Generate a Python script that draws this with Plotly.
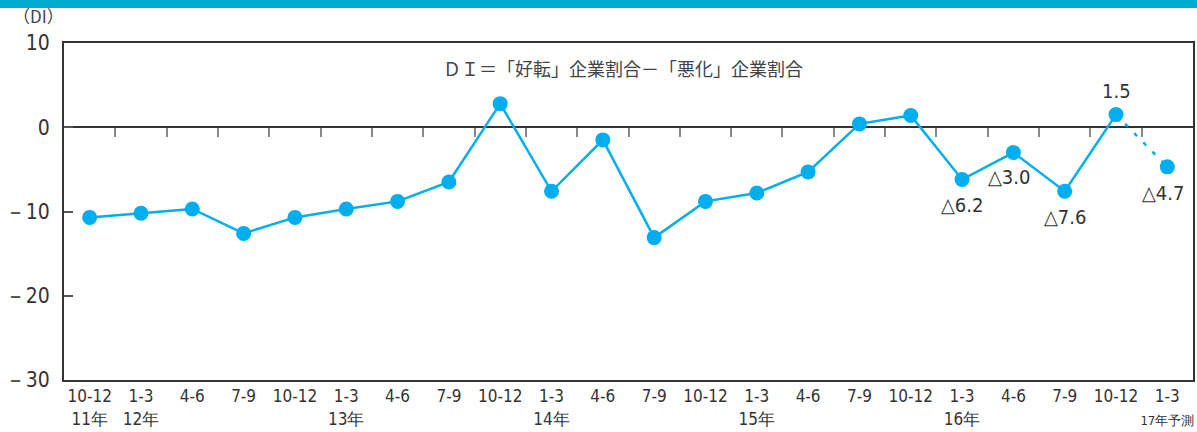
import plotly.graph_objects as go

periods = ["10-12", "1-3", "4-6", "7-9", "10-12", "1-3", "4-6", "7-9", "10-12", "1-3", "4-6",
           "7-9", "10-12", "1-3", "4-6", "7-9", "10-12", "1-3", "4-6", "7-9", "10-12", "1-3"]
years = ["11年", "12年", "", "", "", "13年", "", "", "", "14年", "", "",
         "", "15年", "", "", "", "16年", "", "", "", "<span style='font-size:13px'>17年予測</span>"]
di_values = [-10.7, -10.2, -9.7, -12.6, -10.7, -9.7, -8.8, -6.5, 2.8, -7.6, -1.5,
             -13.1, -8.8, -7.8, -5.3, 0.4, 1.4, -6.2, -3.0, -7.6, 1.5, -4.7]
label_idx = [17, 18, 19, 20, 21]
label_text = ["△6.2", "△3.0", "△7.6", "1.5", "△4.7"]
label_shift = [(0, -26), (-4, -24), (0, -26), (0, 24), (-4, -26)]
ytick_vals = [10, 0, -10, -20, -30]
ytick_text = ["10", "0", "－10", "－20", "－30"]

BLUE = "#00AEEF"
TXT = "#333333"
NARROW = "Liberation Sans Narrow, DejaVu Sans Condensed, Liberation Sans, Arial, sans-serif"
CJK = "Noto Sans CJK JP"

n = len(di_values)
xs = list(range(n))
ticktext = [f"{p}<br>{y}" if y else p for p, y in zip(periods, years)]

fig = go.Figure()
# actual series (solid)
fig.add_trace(go.Scatter(x=xs[:n - 1], y=di_values[:n - 1], mode="lines+markers",
                         line=dict(color=BLUE, width=2.5),
                         marker=dict(color=BLUE, size=15), showlegend=False))
# forecast (dashed)
fig.add_trace(go.Scatter(x=xs[n - 2:], y=di_values[n - 2:], mode="lines",
                         line=dict(color=BLUE, width=2.5, dash="4px,9px"), showlegend=False))
fig.add_trace(go.Scatter(x=[xs[-1]], y=[di_values[-1]], mode="markers",
                         marker=dict(color=BLUE, size=15), showlegend=False))
# helper axis for ticks on the zero line
half = [i + 0.5 for i in range(n - 1)]
fig.add_trace(go.Scatter(x=half, y=[0] * len(half), mode="none", xaxis="x2",
                         showlegend=False, hoverinfo="skip"))

for i, t, (dx, dy) in zip(label_idx, label_text, label_shift):
    fig.add_annotation(x=xs[i], y=di_values[i], text=t, showarrow=False,
                       xshift=dx, yshift=dy, font=dict(family=NARROW, size=20, color=TXT))

fig.add_annotation(x=0.495, y=0.926, xref="paper", yref="paper", yanchor="middle",
                   xanchor="center",
                   text="ＤＩ＝「好転」企業割合－「悪化」企業割合", showarrow=False,
                   font=dict(family=CJK, size=18, color="#444444"))
fig.add_annotation(x=-0.047, y=1.04, xref="paper", yref="paper", xanchor="left",
                   yanchor="bottom",
                   text="（DI）", showarrow=False,
                   font=dict(family=CJK, size=17, color="#444444"))

# top band
fig.add_shape(type="rect", xref="paper", yref="paper", x0=-0.06, x1=1.01,
              y0=1.104, y1=1.15, fillcolor="#00A9CE", line=dict(width=0), layer="below")

fig.update_layout(
    width=1197, height=432,
    margin=dict(l=64, r=4, t=43, b=52),
    paper_bgcolor="white", plot_bgcolor="white",
    xaxis=dict(range=[-0.5, n - 0.5], tickvals=xs, ticktext=ticktext, tickangle=0,
               automargin=False,
               showgrid=False, zeroline=False, ticks="", showline=True,
               linecolor="#333333", linewidth=2, mirror=True,
               tickfont=dict(family=NARROW, size=17, color=TXT)),
    xaxis2=dict(range=[-0.5, n - 0.5], overlaying="x", anchor="free", position=0.75,
                side="bottom", tickvals=half, ticks="outside", ticklen=9, tickwidth=2,
                tickcolor="#888888", showticklabels=False, showline=False,
                automargin=False,
                showgrid=False, zeroline=False),
    yaxis=dict(range=[-30, 10], tickvals=ytick_vals, ticktext=ytick_text,
               automargin=False,
               showgrid=False, zeroline=True, zerolinecolor="#333333", zerolinewidth=1.5,
               ticks="inside", ticklen=9, tickwidth=1.5, tickcolor="#555555",
               showline=True, linecolor="#333333", linewidth=2, mirror=True,
               ticklabelstandoff=8,
               tickfont=dict(family=NARROW, size=21, color=TXT)),
)

fig.write_html("out.html", config={"displayModeBar": False},
               post_script="document.body.style.margin='0';")
